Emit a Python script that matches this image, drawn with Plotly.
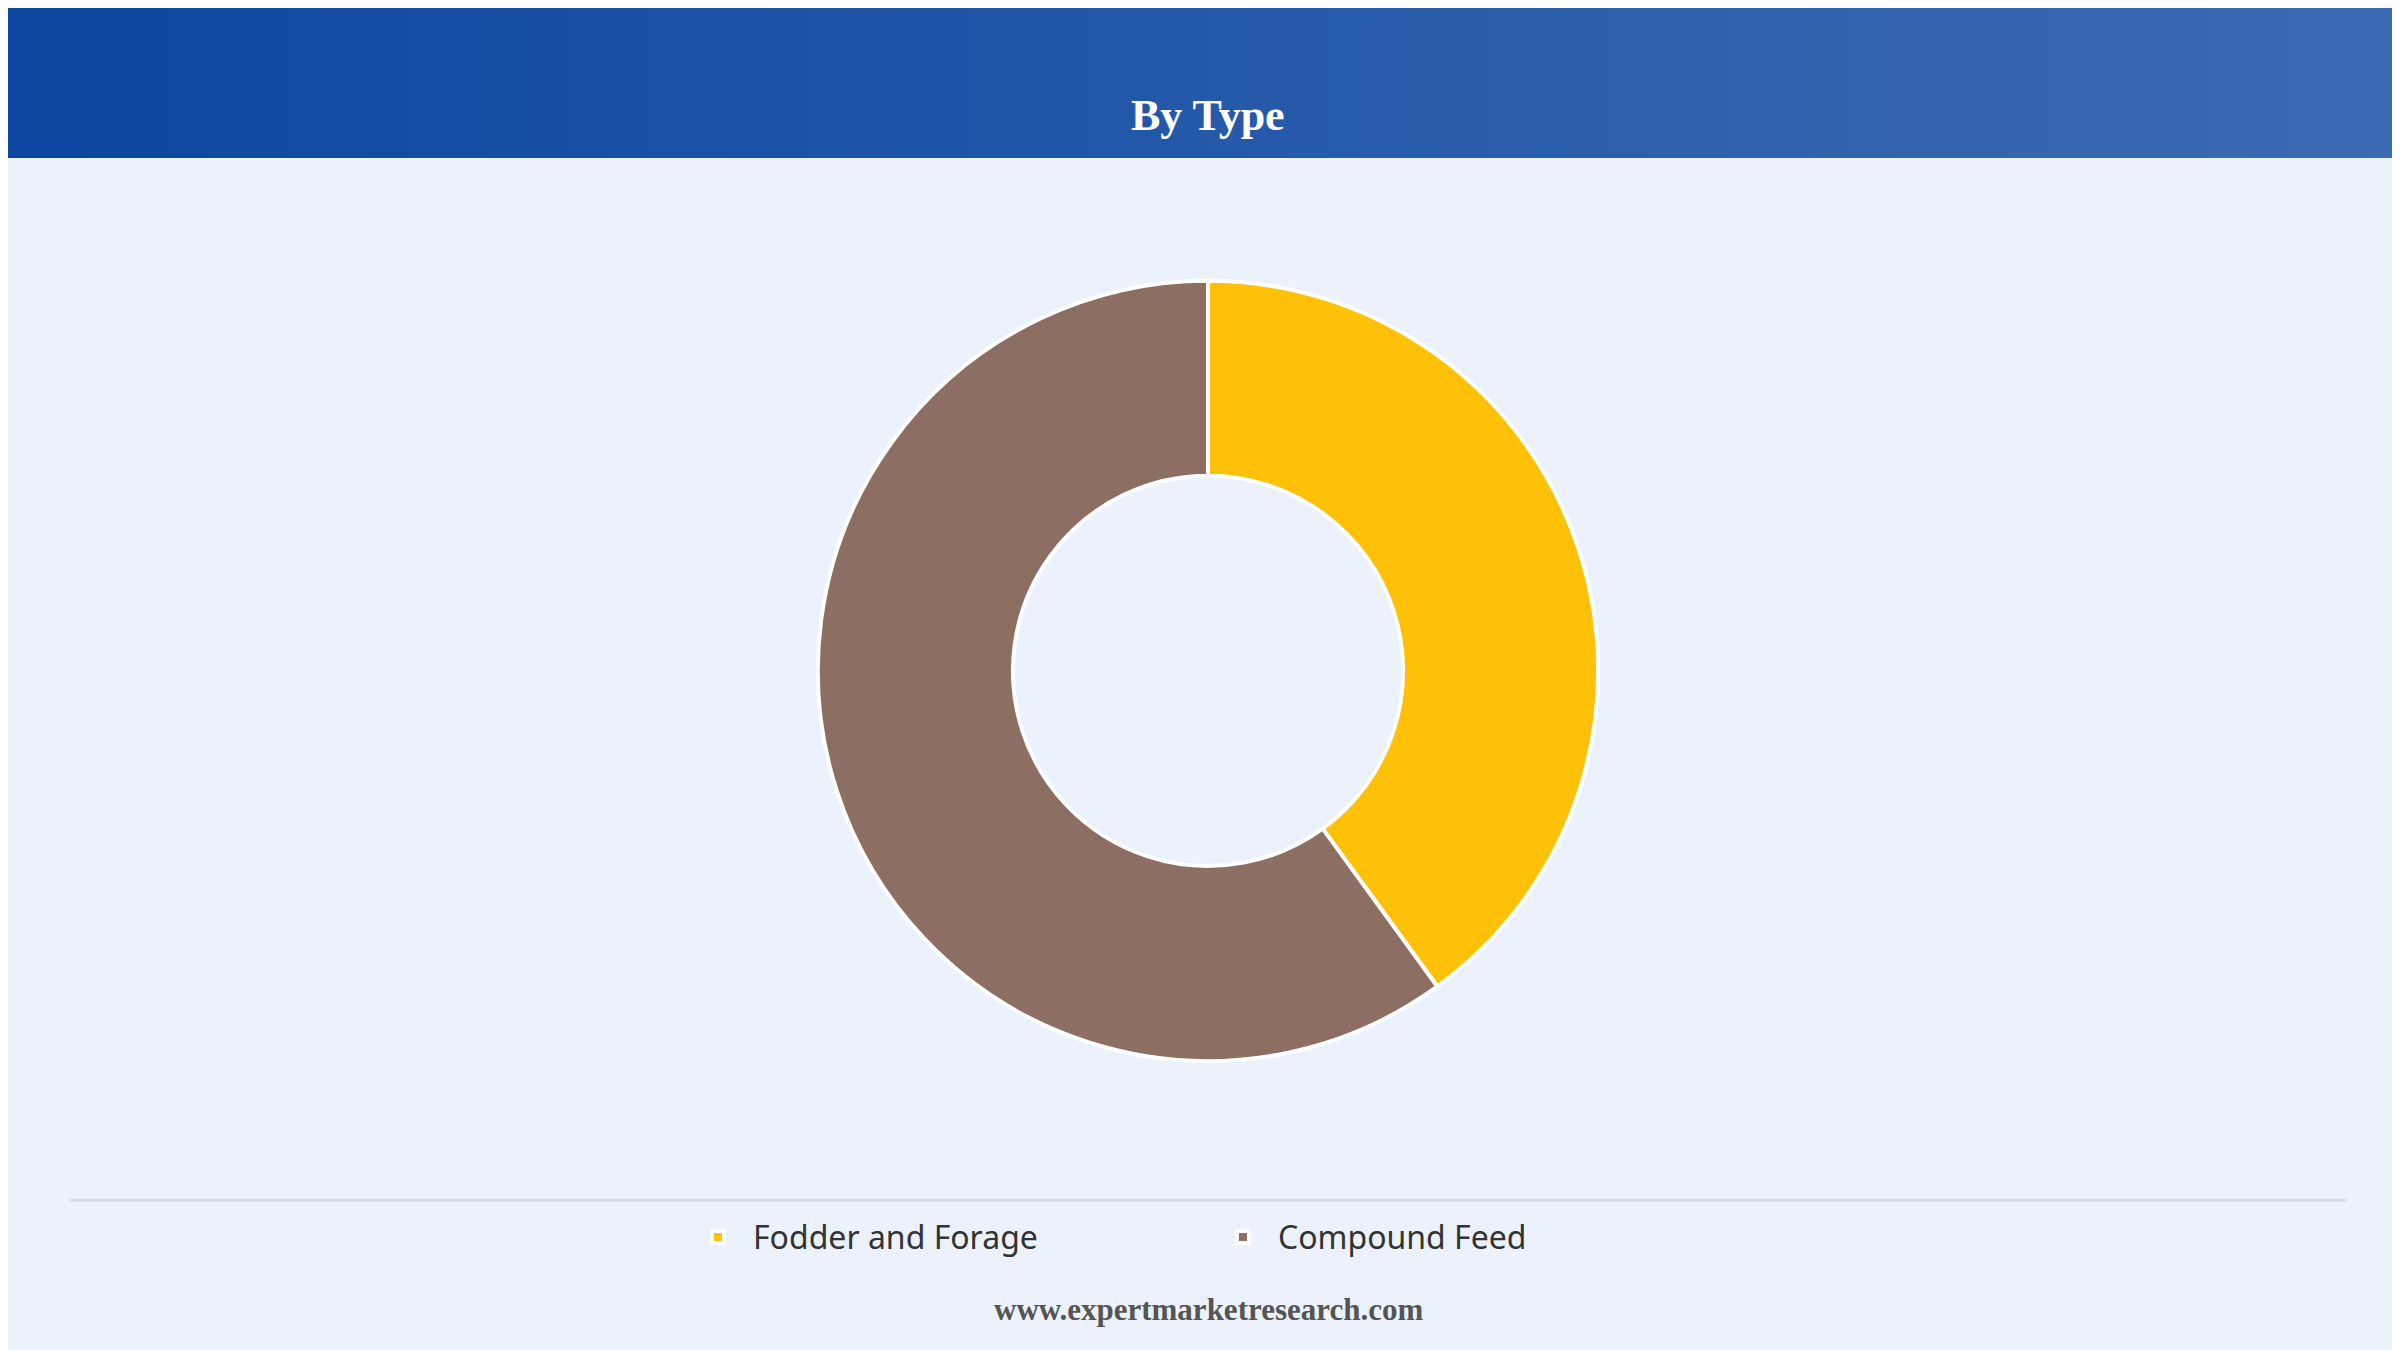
import plotly.graph_objects as go

labels = ["Fodder and Forage", "Compound Feed"]
values = [40, 60]
colors = ["#FFC107", "#8D6E63"]

W, H = 2400, 1350

fig = go.Figure(go.Pie(
    labels=labels, values=values, hole=0.5, sort=False, direction="clockwise",
    rotation=0, marker=dict(colors=colors, line=dict(color="white", width=4)),
    textinfo="none", hoverinfo="label+percent",
    domain=dict(x=[0, 1], y=[0.22, 0.798]),
))

# header gradient
shapes = []
n = 60
c0 = (13, 71, 161)
c1 = (61, 107, 179)
for i in range(n):
    t = i / (n - 1)
    c = tuple(int(c0[k] + (c1[k] - c0[k]) * t) for k in range(3))
    shapes.append(dict(type="rect", xref="paper", yref="paper",
                       x0=i / n, x1=(i + 1) / n + 0.002, y0=1 - 150 / H, y1=1,
                       fillcolor="rgb(%d,%d,%d)" % c, line=dict(width=0), layer="below"))
shapes.append(dict(type="line", xref="paper", yref="paper",
                   x0=40 / 1568, x1=1528 / 1568, y0=1 - 779 / 882, y1=1 - 779 / 882,
                   line=dict(color="#D6DCE4", width=3)))

fig.update_layout(
    width=W, height=H, margin=dict(l=0, r=0, t=0, b=0),
    paper_bgcolor="#EBF2FC", plot_bgcolor="#EBF2FC",
    shapes=shapes,
    showlegend=True,
    legend=dict(orientation="h", x=0.5, xanchor="center", y=1 - 803 / 882, yanchor="middle",
                font=dict(family="Noto Sans", size=32, color="#333333"),
                itemwidth=60, bgcolor="rgba(0,0,0,0)", entrywidth=450),
    annotations=[
        dict(text="<b>By Type</b>", x=0.5, y=1 - 53 / 882, xref="paper", yref="paper",
             showarrow=False, font=dict(family="Liberation Serif", size=44, color="white")),
        dict(text="<b>www.expertmarketresearch.com</b>", x=0.5, y=1 - 863 / 882,
             xref="paper", yref="paper", showarrow=False,
             font=dict(family="Liberation Serif", size=31, color="#555555")),
    ],
)

fig.write_html("out.html")
